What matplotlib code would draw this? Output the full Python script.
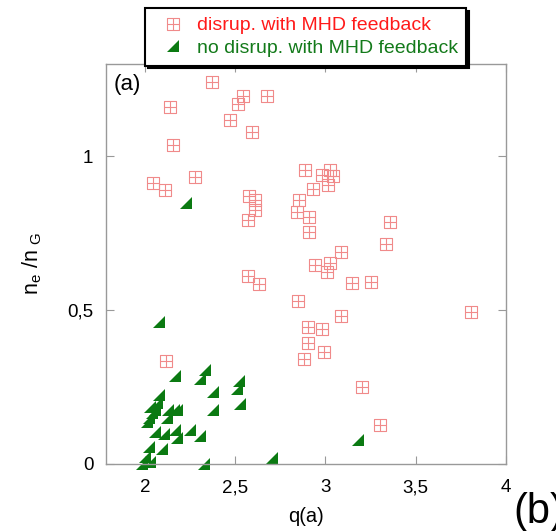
import numpy as np
import matplotlib
matplotlib.use('Agg')
import matplotlib.pyplot as plt
from matplotlib.path import Path

plt.rcParams['font.family'] = ['Liberation Sans', 'DejaVu Sans']
plt.rcParams['mathtext.default'] = 'regular'

# disruptions with MHD feedback (q(a), ne/nG)
q_disr = [2.371, 2.137, 2.156, 2.546, 2.518, 2.675, 2.469, 2.592, 2.279, 2.045,
          2.113, 2.577, 2.612, 2.610, 2.573, 2.885, 3.025, 2.979, 3.040, 3.012,
          2.933, 2.852, 2.843, 2.907, 2.911, 3.356, 3.334, 3.089, 2.942, 3.025,
          3.010, 3.145, 3.251, 2.634, 2.573, 2.846, 3.084, 3.808, 2.905, 2.979,
          2.905, 2.992, 2.881, 3.200, 3.305, 2.119]
n_disr = [1.241, 1.160, 1.038, 1.195, 1.171, 1.196, 1.117, 1.079, 0.933, 0.913,
          0.892, 0.870, 0.859, 0.826, 0.792, 0.956, 0.957, 0.938, 0.935, 0.906,
          0.893, 0.857, 0.819, 0.802, 0.754, 0.787, 0.716, 0.689, 0.646, 0.654,
          0.624, 0.589, 0.592, 0.584, 0.610, 0.530, 0.481, 0.493, 0.444, 0.440,
          0.392, 0.365, 0.340, 0.251, 0.127, 0.334]

# no disruption with MHD feedback
q_nodisr = [2.077, 2.228, 3.181, 2.703, 2.168, 2.334, 2.305, 2.524, 2.509, 2.380,
            2.528, 2.377, 2.077, 2.067, 2.058, 2.040, 2.021, 2.012, 2.030, 2.128,
            2.159, 2.178, 2.123, 2.058, 2.104, 2.168, 2.178, 2.251, 2.307, 2.021,
            2.095, 2.003, 2.030, 1.985, 2.330]
n_nodisr = [0.462, 0.848, 0.078, 0.018, 0.287, 0.305, 0.275, 0.270, 0.245, 0.235,
            0.195, 0.177, 0.224, 0.197, 0.175, 0.165, 0.148, 0.137, 0.185, 0.175,
            0.177, 0.175, 0.148, 0.105, 0.097, 0.110, 0.083, 0.110, 0.091, 0.056,
            0.048, 0.024, 0.007, 0.0, 0.0]

xticks = [2, 2.5, 3, 3.5, 4]
xticklabels = ['2', '2,5', '3', '3,5', '4']
yticks = [0, 0.5, 1]
yticklabels = ['0', '0,5', '1']

# square with a cross inside
sq_cross = Path([(-1, -1), (1, -1), (1, 1), (-1, 1), (-1, -1), (0, -1), (0, 1), (-1, 0), (1, 0)],
                [Path.MOVETO, Path.LINETO, Path.LINETO, Path.LINETO, Path.CLOSEPOLY,
                 Path.MOVETO, Path.LINETO, Path.MOVETO, Path.LINETO])
# right triangle, right angle bottom right
tri = Path([(-1, -1), (1, -1), (1, 1), (-1, -1)],
           [Path.MOVETO, Path.LINETO, Path.LINETO, Path.CLOSEPOLY])

fig = plt.figure(figsize=(5.56, 5.31), dpi=100)
ax = fig.add_axes([106 / 556, 67 / 531, 400 / 556, 400 / 531])

h1, = ax.plot(q_disr, n_disr, ls='none', marker=sq_cross, markersize=8.5,
              markerfacecolor='none', markeredgecolor='#f08a8a', markeredgewidth=0.8,
              label='disrup. with MHD feedback')
h2, = ax.plot(q_nodisr, n_nodisr, ls='none', marker=tri, markersize=8,
              color='#0b7a12', markeredgewidth=0,
              label='no disrup. with MHD feedback', clip_on=False)

ax.set_xlim(1.785, 4)
ax.set_ylim(0, 1.3)
ax.set_xticks(xticks)
ax.set_xticklabels(xticklabels)
ax.set_yticks(yticks)
ax.set_yticklabels(yticklabels)
ax.tick_params(direction='in', length=6, color='#999999', labelsize=13.5,
               top=True, right=True)
ax.tick_params(axis='x', pad=11)
ax.tick_params(axis='y', pad=9)
for s in ax.spines.values():
    s.set_color('#999999')
    s.set_linewidth(1)

ax.set_xlabel('q(a)', fontsize=14.5, labelpad=8)
ax.set_ylabel('n$_e$ /n$_{\\ G}$', fontsize=15.5, labelpad=17)
ax.text(0.02, 0.975, '(a)', transform=ax.transAxes, fontsize=16, va='top', ha='left')

fig.text(513 / 556, 8 / 531, '(b)', fontsize=30, va='baseline', ha='left')

leg = fig.legend(handles=[h1, h2], loc='upper left', bbox_to_anchor=(145 / 556, 1 - 8 / 531),
                 fontsize=14, frameon=True, fancybox=False, borderpad=0.45,
                 handlelength=2.0, handletextpad=0.2, labelspacing=0.25,
                 borderaxespad=0, shadow={'color': 'black', 'alpha': 1})
leg.get_frame().set_edgecolor('black')
leg.get_frame().set_linewidth(1.5)
leg.texts[0].set_color('#ff1a1a')
leg.texts[1].set_color('#137a1a')

plt.savefig('out.png', dpi=100)
